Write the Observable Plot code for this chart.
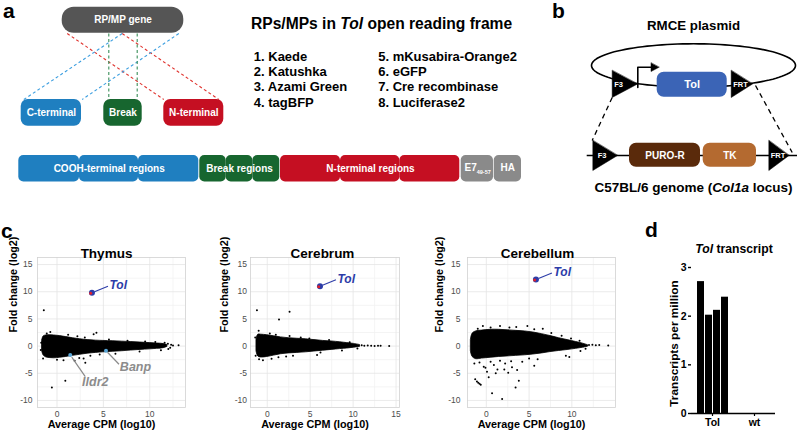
<!DOCTYPE html>
<html>
<head>
<meta charset="utf-8">
<script src="https://cdn.jsdelivr.net/npm/d3@7"></script>
<script src="https://cdn.jsdelivr.net/npm/@observablehq/plot@0.6"></script>
<style>
  html, body { margin: 0; padding: 0; background: #fff; }
  #root { position: relative; width: 799px; height: 434px; overflow: hidden; }
  #root > div { position: absolute; }
  #root svg { background: transparent !important; }
</style>
</head>
<body>
<div id="root"></div>
<script>
// ===================== DATA =====================
// panel a
const rpmpList = ["1. Kaede", "2. Katushka", "3. Azami Green", "4. tagBFP",
                  "5. mKusabira-Orange2", "6. eGFP", "7. Cre recombinase", "8. Luciferase2"];
const geneLabel = "RP/MP gene";
const splitLabels = ["C-terminal", "Break", "N-terminal"];
const regionLabels = ["COOH-terminal regions", "Break regions", "N-terminal regions"];
const tagLabels = ["E7_{49-57}", "HA"];
const panelATitle = "RPs/MPs in *Tol* open reading frame";

// panel b
const plasmidTitle = "RMCE plasmid";
const genomeTitle = "C57BL/6 genome (*Col1a* locus)";
const plasmidParts = ["F3", "Tol", "FRT"];
const genomeParts = ["F3", "PURO-R", "TK", "FRT"];

// panel c : dense cloud envelopes [avg CPM, lower FC, upper FC] and sparse points [avg CPM, FC]
const tissues = ["Thymus", "Cerebrum", "Cerebellum"];
const thymusCloud = [
  [-1.6,-0.9,1.0],[-1.45,-1.7,1.75],[-1.2,-2.05,1.95],[-0.8,-2.2,2.0],[-0.3,-2.25,1.95],
  [0.3,-2.15,1.85],[1.0,-2.0,1.65],[1.7,-1.8,1.45],[2.5,-1.6,1.25],[3.3,-1.4,1.1],
  [4.2,-1.25,1.0],[5.0,-1.15,0.95],[6.0,-1.05,0.9],[7.0,-0.95,0.82],[8.0,-0.82,0.74],
  [9.0,-0.7,0.65],[10.0,-0.6,0.55],[10.8,-0.5,0.47],[11.5,-0.38,0.38],[11.9,-0.15,0.2]
];
const thymusPoints = [
  [-1.42,6.6],[-0.55,-7.6],[0.9,-6.4],[4.25,2.45],[3.95,2.2],[-0.72,2.6],[-1.1,2.3],[-1.7,0.6],
  [-1.75,-0.7],[-1.5,-2.3],[0.0,-2.5],[0.7,-2.6],[1.9,-2.7],[2.87,-2.3],[3.05,-3.05],[2.4,-2.2],
  [3.6,-1.8],[4.6,-1.55],[6.3,-1.4],[1.2,2.1],[2.2,1.8],[3.0,1.6],[5.6,1.2],[7.6,1.0],[9.5,0.85],
  [10.6,0.75],[11.6,0.6],[11.95,0.45],[12.2,-0.3],[12.0,-0.55],[12.5,0.1],[12.3,0.25],[13.1,0.15],
  [11.2,-0.75],[8.9,-1.0]
];
const thymusGenes = [
  {gene: "Tol", x: 3.77, y: 9.8},
  {gene: "Ildr2", x: 1.43, y: -1.65},
  {gene: "Banp", x: 5.28, y: -0.86}
];

const cerebrumCloud = [
  [-1.25,-1.0,1.2],[-1.05,-1.9,2.1],[-0.7,-2.1,2.1],[0.0,-2.0,2.0],[0.8,-1.75,1.8],
  [1.6,-1.5,1.6],[2.5,-1.35,1.45],[3.5,-1.25,1.35],[4.5,-1.15,1.25],[5.5,-1.0,1.1],
  [6.5,-0.85,0.95],[7.5,-0.7,0.85],[8.5,-0.55,0.7],[9.3,-0.45,0.55],[10.1,-0.3,0.4],[10.8,-0.15,0.2]
];
const cerebrumPoints = [
  [-1.2,6.6],[2.6,6.3],[1.37,4.9],[-1.0,2.8],[-0.5,-2.6],[-0.95,-2.4],[-1.35,-1.8],[-1.4,1.6],
  [0.3,2.3],[1.0,2.1],[2.6,1.85],[4.9,1.4],[3.9,1.6],[5.8,-1.65],[3.0,-1.8],[1.3,-2.05],[2.2,-1.9],
  [8.7,-0.8],[7.2,1.1],[6.2,-1.2],[9.6,0.7],[11.0,0.15],[11.3,0.05],[11.7,0.1],[12.1,0.05],
  [12.5,0.0],[12.9,0.05],[13.2,0.05],[14.2,0.0],[10.5,-0.45],[0.5,-2.35]
];
const cerebrumGenes = [{gene: "Tol", x: 6.14, y: 11.0}];

const cerebellumCloud = [
  [-1.8,-1.0,1.2],[-1.6,-2.0,2.3],[-1.2,-2.4,2.7],[-0.5,-2.3,2.85],[0.5,-2.15,3.0],
  [1.5,-2.0,3.0],[2.5,-1.9,2.9],[3.5,-1.8,2.8],[4.5,-1.7,2.7],[5.5,-1.55,2.5],
  [6.5,-1.35,2.2],[7.5,-1.1,1.85],[8.5,-0.9,1.45],[9.5,-0.72,1.1],[10.5,-0.5,0.75],
  [11.3,-0.3,0.45],[11.9,-0.1,0.15]
];
const cerebellumPoints = [
  [4.8,3.7],[1.6,3.7],[-0.4,3.7],[2.7,3.4],[6.6,3.2],[3.5,3.5],[0.5,3.4],[-1.0,3.2],[5.6,3.1],
  [7.6,2.4],[8.8,1.9],[9.9,1.4],[10.9,1.0],
  [-1.3,-6.1],[-1.1,-6.5],[-0.95,-6.75],[-0.8,-6.95],[-0.65,-7.1],[0.67,-8.7],[1.85,-9.75],
  [3.42,-7.6],[3.8,-6.4],[2.56,-4.9],[0.28,-5.75],[0.08,-4.7],[-0.3,-3.8],[0.88,-3.5],[2.2,-3.2],
  [3.6,-4.4],[5.6,-3.6],[5.0,-2.3],[1.3,-4.3],[-0.8,-3.0],[-1.4,-3.2],[0.5,-2.9],[1.6,-2.7],
  [2.9,-2.8],[4.2,-2.9],[6.0,-2.4],[3.0,-3.9],[-0.1,-4.0],[1.1,-5.0],[2.1,-4.3],
  [12.0,0.2],[12.4,0.25],[12.8,0.15],[13.2,0.2],[14.25,0.1],[11.6,-0.5],[9.3,-1.8],[9.7,-2.0],[11.0,-0.9]
];
const cerebellumGenes = [{gene: "Tol", x: 5.8, y: 12.25}];

// panel d
const tpmGroups = ["Tol", "Tol", "Tol", "Tol", "wt", "wt", "wt", "wt"];
const tpmReplicate = [1, 2, 3, 4, 1, 2, 3, 4];
const tpmValues = [2.71, 2.02, 2.12, 2.39, 0, 0, 0, 0];
const tpmTitle = "*Tol* transcript";
const tpmAxisLabel = "Transcripts per million";

// ===================== STYLE / LAYOUT =====================
const FONT = '"Liberation Sans", Arial, Helvetica, sans-serif';
const C = {
  blue: "#1f7fc0", green: "#17662f", red: "#c50f22", gray: "#8a8a8a", dark: "#555555",
  dBlue: "#3d9fe0", dGreen: "#3a8f5a", dRed: "#e0342f",
  tolBox: "#3b64b6", puro: "#5a2a0b", tk: "#b46a30",
  tolBlue: "#2c3ca8", tolRed: "#e0202a", geneDot: "#5aa6d6", geneGray: "#8c8c8c"
};
const root = document.getElementById("root");
function place(el, left, top) {
  const d = document.createElement("div");
  d.style.left = left + "px"; d.style.top = top + "px";
  d.appendChild(el); root.appendChild(d); return el;
}
function richify(svg) {
  svg.querySelectorAll("text").forEach(t => {
    const s = t.textContent;
    if (!/\*|_\{/.test(s)) return;
    const parts = s.split(/(\*[^*]+\*|_\{[^}]+\})/).filter(p => p);
    while (t.firstChild) t.removeChild(t.firstChild);
    for (const p of parts) {
      const ts = document.createElementNS("http://www.w3.org/2000/svg", "tspan");
      if (p.startsWith("*")) { ts.textContent = p.slice(1, -1); ts.setAttribute("font-style", "italic"); }
      else if (p.startsWith("_{")) { ts.textContent = p.slice(2, -1); ts.setAttribute("font-size", "0.55em"); ts.setAttribute("dy", "0.5em"); }
      else ts.textContent = p;
      t.appendChild(ts);
    }
  });
  return svg;
}

// ===================== PANEL C : MA plots =====================
const yDomainMA = [-11.3, 16.3];
const yMajor = [-10, -5, 0, 5, 10, 15];
const yMinor = [-7.5, -2.5, 2.5, 7.5, 12.5];
const calloutOffsets = { // pixel offsets: line start/end and label anchor relative to the gene's point
  Tol:   {l: [2.5, -1, 16, -6.5], t: [17.5, -7.5], anchor: "start"},
  Ildr2: {l: [1.5, 2, 15, 21.5], t: [25, 27], anchor: "middle"},
  Banp:  {l: [1.5, 1.5, 13, 13.5], t: [29.5, 16.5], anchor: "middle"}
};

function maPlot(cfg) {
  const {title, cloud, points, genes, xDomain, xTicks, left, width, marginLeft, marginRight, yPad, yLabDx, titleDx} = cfg;
  const H = 199, mT = 22, mB = 27;
  const kx = (width - marginLeft - marginRight) / (xDomain[1] - xDomain[0]);
  const ky = (H - mT - mB) / (yDomainMA[1] - yDomainMA[0]);
  const xMinor = xTicks.map(v => v + 2.5).filter(v => v < xDomain[1]);
  const tol = genes.filter(g => g.gene === "Tol");
  const others = genes.filter(g => g.gene !== "Tol");
  const off = g => calloutOffsets[g.gene];
  const plot = Plot.plot({
    width, height: H, marginLeft, marginRight, marginTop: mT, marginBottom: mB,
    x: {domain: xDomain, ticks: xTicks, tickSize: 0, tickPadding: 3, label: null, tickFormat: d => String(d)},
    y: {domain: yDomainMA, ticks: yMajor, tickSize: 0, tickPadding: yPad, label: null, tickFormat: d => String(d)},
    style: {fontFamily: FONT, fontSize: "8.5px", color: "#4d4d4d", background: "transparent"},
    marks: [
      Plot.frame({fill: "white"}),
      Plot.ruleX(xMinor, {stroke: "#f1f1f1", strokeWidth: 0.8}),
      Plot.ruleY(yMinor, {stroke: "#f1f1f1", strokeWidth: 0.8}),
      Plot.ruleX(xTicks, {stroke: "#e4e4e4", strokeWidth: 0.8}),
      Plot.ruleY(yMajor, {stroke: "#e4e4e4", strokeWidth: 0.8}),
      Plot.frame({stroke: "#d2d2d2", strokeWidth: 0.8}),
      Plot.areaY(cloud, {x: d => d[0], y1: d => d[1], y2: d => d[2], fill: "black", stroke: "black", strokeWidth: 0.8, curve: "catmull-rom"}),
      Plot.dot(points, {x: d => d[0], y: d => d[1], r: 1, fill: "black"}),
      // gray callouts
      Plot.link(others, {x1: g => g.x + off(g).l[0] / kx, y1: g => g.y - off(g).l[1] / ky,
                         x2: g => g.x + off(g).l[2] / kx, y2: g => g.y - off(g).l[3] / ky,
                         stroke: "#8a8a8a", strokeWidth: 1.2}),
      Plot.dot(others, {x: "x", y: "y", r: 2, fill: C.geneDot}),
      ...others.map(g => Plot.text([g], {x: "x", y: "y", text: "gene", dx: off(g).t[0], dy: off(g).t[1],
                         fontFamily: FONT, fontStyle: "italic", fontWeight: "bold", fontSize: 12.5, fill: C.geneGray, textAnchor: off(g).anchor})),
      // Tol highlight
      Plot.link(tol, {x1: g => g.x + off(g).l[0] / kx, y1: g => g.y - off(g).l[1] / ky,
                      x2: g => g.x + off(g).l[2] / kx, y2: g => g.y - off(g).l[3] / ky,
                      stroke: C.tolBlue, strokeWidth: 1.1}),
      Plot.dot(tol, {x: "x", y: "y", r: 3, fill: C.tolBlue}),
      Plot.dot(tol, {x: "x", y: "y", r: 1.5, fill: C.tolRed, dx: -1.3, dy: 0.4}),
      Plot.text(tol, {x: "x", y: "y", text: "gene", dx: 17.5, dy: -7.5, textAnchor: "start", fontFamily: FONT,
                      fontStyle: "italic", fontWeight: "bold", fontSize: 12, fill: C.tolBlue}),
      // titles & axis labels
      Plot.text([title], {frameAnchor: "top", dx: titleDx, dy: -9.5, fontFamily: FONT, fontWeight: "bold", fontSize: 13.5, fill: "black"}),
      Plot.text(["Average CPM (log10)"], {frameAnchor: "bottom", dx: -10, dy: 20.5, fontFamily: FONT, fontWeight: "bold", fontSize: 10.8, fill: "black"}),
      Plot.text(["Fold change (log2)"], {frameAnchor: "left", rotate: -90, dx: yLabDx, fontFamily: FONT, fontWeight: "bold", fontSize: 10.8, fill: "black"})
    ]
  });
  return place(plot, left, 235);
}

// ---------- diagram geometry (panels a & b, plus page-level labels), in page pixels ----------
const geneBox = [{x1: 61.7, x2: 183.3, y1: 6.7, y2: 32.7}];
const splitBoxX = [[20.7, 81], [103.3, 141.7], [163.3, 223.3]];
const splitFill = [C.blue, C.green, C.red];
const dashesA = [
  {x1: 66.7, y1: 33, x2: 163.3, y2: 99, c: C.dRed},
  {x1: 121.7, y1: 33, x2: 218.3, y2: 99, c: C.dRed},
  {x1: 121.7, y1: 33, x2: 23.3, y2: 99, c: C.dBlue},
  {x1: 178.3, y1: 33, x2: 81.7, y2: 99, c: C.dBlue},
  {x1: 108.3, y1: 33, x2: 108.3, y2: 99, c: C.dGreen},
  {x1: 136.7, y1: 33, x2: 136.7, y2: 99, c: C.dGreen}
];
const orfSegX = [
  [18.3, 79, C.blue], [79, 138, C.blue], [138, 198.3, C.blue],
  [199.3, 225.7, C.green], [225.7, 252.3, C.green], [252.3, 279.3, C.green],
  [280, 340, C.red], [340, 399.3, C.red], [399.3, 459.3, C.red],
  [460.7, 493, C.gray], [493.7, 521, C.gray]
];
const regionCenters = [108.7, 239, 370];

const ell = {cx: 693, cy: 65, rx: 102, ry: 21.7};
const ellipsePts = d3.range(0, 360, 3).map(a => ({x: ell.cx + ell.rx * Math.cos(a * Math.PI / 180), y: ell.cy + ell.ry * Math.sin(a * Math.PI / 180)}));
const triangles = [
  {id: "t1", p: [[611.7, 70], [611.7, 97], [637, 83.5]]},
  {id: "t2", p: [[730.7, 70], [730.7, 97], [752, 83.5]]},
  {id: "t3", p: [[592.3, 140], [592.3, 170], [617, 155]]},
  {id: "t4", p: [[768.3, 140], [768.3, 170], [788.5, 155]]},
  {id: "ah", p: [[650.5, 62.5], [650.5, 71], [658.5, 66.8]]}
].flatMap(t => t.p.map(([x, y]) => ({id: t.id, x, y})));
const promoter = [{x: 637.3, y: 87}, {x: 637.3, y: 66.8}, {x: 652, y: 66.8}];
const dashesB = [{x1: 611.7, y1: 97, x2: 591.7, y2: 140}, {x1: 755, y1: 85, x2: 791.7, y2: 152}];
const bBoxes = [
  {x1: 656.7, x2: 726.7, y1: 71.7, y2: 96.7, f: C.tolBox},
  {x1: 629, x2: 700, y1: 142.7, y2: 166.7, f: C.puro},
  {x1: 702.7, x2: 756, y1: 142.7, y2: 166.7, f: C.tk}
];
const bLabels = [
  {t: plasmidParts[0], x: 618, y: 84.5, s: 7.5}, {t: plasmidParts[1], x: 691.7, y: 84.3, s: 11}, {t: plasmidParts[2], x: 740, y: 84, s: 7.5},
  {t: genomeParts[0], x: 601.5, y: 155.3, s: 7.5}, {t: genomeParts[1], x: 664.5, y: 155, s: 10},
  {t: genomeParts[2], x: 729.3, y: 155, s: 10}, {t: genomeParts[3], x: 777.5, y: 155.3, s: 7.5}
];

const txt = (data, o) => Plot.text(data, {x: "x", y: "y", text: "t", fontFamily: FONT, fontWeight: "bold", ...o});

const diagram = Plot.plot({
  width: 799, height: 434, margin: 0,
  x: {domain: [0, 799], range: [0, 799], axis: null},
  y: {domain: [0, 434], range: [0, 434], axis: null},
  style: {fontFamily: FONT, background: "transparent"},
  marks: [
    // panel letters
    txt([{t: "a", x: 2.5, y: 10.3}, {t: "b", x: 551.5, y: 10.6}, {t: "c", x: 0.5, y: 230.3}, {t: "d", x: 644.5, y: 230}],
        {textAnchor: "start", fontSize: 21, fill: "black"}),
    // ---- panel a ----
    Plot.link(dashesA, {x1: "x1", y1: "y1", x2: "x2", y2: "y2", stroke: "c", strokeWidth: 1.1, strokeDasharray: "3,2.5"}),
    Plot.rect(geneBox, {x1: "x1", x2: "x2", y1: "y1", y2: "y2", fill: C.dark, rx: 12}),
    txt([{t: geneLabel, x: 122.5, y: 19.7}], {fill: "white", fontSize: 10}),
    Plot.rect(splitLabels.map((t, i) => ({t, x1: splitBoxX[i][0], x2: splitBoxX[i][1], f: splitFill[i]})),
              {x1: "x1", x2: "x2", y1: 99, y2: 125.7, fill: "f", rx: 7}),
    txt(splitLabels.map((t, i) => ({t, x: (splitBoxX[i][0] + splitBoxX[i][1]) / 2, y: 112.7})), {fill: "white", fontSize: 10}),
    Plot.rect(orfSegX.map(([x1, x2, f]) => ({x1, x2, f})), {x1: "x1", x2: "x2", y1: 155, y2: 181.5, fill: "f", rx: 5}),
    txt(regionLabels.map((t, i) => ({t, x: regionCenters[i], y: 168.3})), {fill: "white", fontSize: 10}),
    txt([{t: tagLabels[0], x: 464, y: 167.5}], {fill: "white", fontSize: 10, textAnchor: "start"}),
    txt([{t: tagLabels[1], x: 507.3, y: 167.5}], {fill: "white", fontSize: 10}),
    txt([{t: panelATitle, x: 250.5, y: 23.3}], {textAnchor: "start", fontSize: 15.6, fill: "black"}),
    txt(rpmpList.map((t, i) => ({t, x: i < 4 ? 253.3 : 377.7, y: 56.4 + (i % 4) * 15.2})),
        {textAnchor: "start", fontSize: 13, fill: "black"}),
    // ---- panel b ----
    Plot.line(ellipsePts, {x: "x", y: "y", curve: "linear-closed", stroke: "black", strokeWidth: 1.6}),
    Plot.link(dashesB, {x1: "x1", y1: "y1", x2: "x2", y2: "y2", stroke: "black", strokeWidth: 1.3, strokeDasharray: "5,4"}),
    Plot.ruleY([155], {x1: 586.7, x2: 797, stroke: "black", strokeWidth: 1.6}),
    Plot.line(promoter, {x: "x", y: "y", stroke: "black", strokeWidth: 1.6}),
    Plot.line(triangles, {x: "x", y: "y", z: "id", curve: "linear-closed", fill: "black", stroke: "black", strokeWidth: 0.5}),
    Plot.rect(bBoxes, {x1: "x1", x2: "x2", y1: "y1", y2: "y2", fill: "f", rx: 7}),
    txt(bLabels, {fill: "white", fontSize: "s"}),
    txt([{t: plasmidTitle, x: 693, y: 25}], {fontSize: 13.3, fill: "black"}),
    txt([{t: genomeTitle, x: 693, y: 187.3}], {fontSize: 13.5, fill: "black"}),
    // ---- panel d title & axis label ----
    txt([{t: tpmTitle, x: 733.5, y: 248.8}], {fontSize: 12.2, fill: "black"}),
    txt([{t: tpmAxisLabel, x: 673.5, y: 343}], {fontSize: 11.8, fill: "black", rotate: -90})
  ]
});
place(richify(diagram), 0, 0);

maPlot({title: tissues[0], cloud: thymusCloud, points: thymusPoints, genes: thymusGenes,
        xDomain: [-2.1, 13.85], xTicks: [0, 5, 10], left: 0, width: 195, marginLeft: 37, marginRight: 10,
        yPad: 5, yLabDx: -23.7, titleDx: -5});
maPlot({title: tissues[1], cloud: cerebrumCloud, points: cerebrumPoints, genes: cerebrumGenes,
        xDomain: [-1.95, 15.4], xTicks: [0, 5, 10, 15], left: 212, width: 198, marginLeft: 38, marginRight: 11,
        yPad: 3.5, yLabDx: -26, titleDx: -2.5});
maPlot({title: tissues[2], cloud: cerebellumCloud, points: cerebellumPoints, genes: cerebellumGenes,
        xDomain: [-2.2, 15.1], xTicks: [0, 5, 10], left: 428, width: 200, marginLeft: 39, marginRight: 13,
        yPad: 7, yLabDx: -28, titleDx: -4});

// ===================== PANEL D : bar chart =====================
const tpm = tpmValues.map((v, i) => ({group: tpmGroups[i], rep: tpmReplicate[i], tpm: v}));
const barPlot = Plot.plot({
  width: 159, height: 199, marginLeft: 51, marginRight: 24, marginTop: 32, marginBottom: 21,
  fx: {domain: ["Tol", "wt"], padding: 0, label: null, axis: null},
  x: {domain: [1, 2, 3, 4], paddingInner: 0.15, paddingOuter: 0.45, axis: null},
  y: {domain: [0, 3], axis: null},
  style: {fontFamily: FONT, fontSize: "10.5px", fontWeight: "bold", color: "black", background: "transparent"},
  marks: [
    Plot.barY(tpm, {fx: "group", x: "rep", y: "tpm", fill: "black"}),
    Plot.ruleY([0], {stroke: "black", strokeWidth: 1.4}),
    Plot.axisY({ticks: [0, 1, 2, 3], tickFormat: d => String(d), tickSize: 3, tickPadding: 2, line: true, strokeWidth: 1.4, label: null}),
    Plot.axisFx({anchor: "bottom", tickSize: 3, tickPadding: 2, strokeWidth: 1.2, label: null})
  ]
});
place(barPlot, 640, 235);
</script>
</body>
</html>
